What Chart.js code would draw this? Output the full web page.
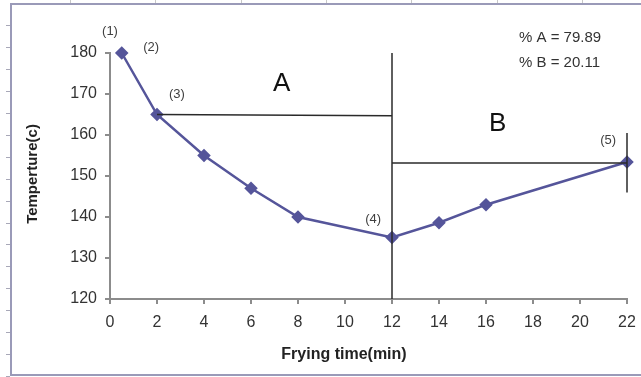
<!DOCTYPE html>
<html>
<head>
<meta charset="utf-8">
<script src="https://cdn.jsdelivr.net/npm/chart.js@4/dist/chart.umd.min.js"></script>
<style>
  html, body { margin: 0; padding: 0; background: #ffffff; }
  #wrap { width: 641px; height: 377px; position: relative; }
</style>
</head>
<body>
<div id="wrap"><canvas id="c" width="641" height="377"></canvas></div>
<script>
// Oil temperature during frying
const fryingTime = [0.5, 2, 4, 6, 8, 12, 14, 16, 22];
const temperature = [180, 165, 155, 147, 140, 135, 138.6, 143, 153.4];

const xTicks = [0, 2, 4, 6, 8, 10, 12, 14, 16, 18, 20, 22];
const yTicks = [120, 130, 140, 150, 160, 170, 180];

// Point labels (x, y in data units)
const pointLabels = [
  { text: '(1)', x: 0, y: 185.3 },
  { text: '(2)', x: 1.75, y: 181.4 },
  { text: '(3)', x: 2.85, y: 170 },
  { text: '(4)', x: 11.2, y: 139.5 },
  { text: '(5)', x: 21.2, y: 158.6 }
];
// Region letters
const regionLabels = [
  { text: 'A', x: 7.3, y: 172.5 },
  { text: 'B', x: 16.5, y: 162.8 }
];
// Region split lines: [x1, y1, x2, y2]
const regionLines = [
  [2, 165, 12, 164.7],
  [12, 180, 12, 120],
  [12, 153.2, 22, 153.2],
  [22, 160.5, 22, 146]
];
const shareText = ['% A = 79.89', '% B = 20.11'];

const fontFamily = '"Liberation Sans", Arial, sans-serif';

const decorPlugin = {
  id: 'decor',
  beforeDraw(chart) {
    const ctx = chart.ctx;
    ctx.save();
    ctx.fillStyle = '#ffffff';
    ctx.fillRect(0, 0, chart.width, chart.height);
    // sheet gridline stubs around the frame
    ctx.strokeStyle = '#c8c8c8';
    ctx.lineWidth = 1;
    for (let x = 70; x < 641; x += 85.3) {
      ctx.beginPath();
      ctx.moveTo(Math.round(x) + 0.5, 0);
      ctx.lineTo(Math.round(x) + 0.5, 4);
      ctx.stroke();
    }
    ctx.strokeStyle = '#a8a8b8';
    for (let y = 25; y < 377; y += 21.95) {
      ctx.beginPath();
      ctx.moveTo(6, Math.round(y) + 0.5);
      ctx.lineTo(10, Math.round(y) + 0.5);
      ctx.stroke();
    }
    // chart frame
    ctx.strokeStyle = '#9a9ab8';
    ctx.lineWidth = 2;
    ctx.strokeRect(11, 4, 640, 371);
    ctx.restore();
  },
  afterDatasetsDraw(chart) {
    const ctx = chart.ctx;
    const xs = chart.scales.x, ys = chart.scales.y;
    ctx.save();
    ctx.strokeStyle = '#2a2a2a';
    ctx.lineWidth = 1.5;
    regionLines.forEach(([x1, y1, x2, y2]) => {
      ctx.beginPath();
      ctx.moveTo(xs.getPixelForValue(x1), ys.getPixelForValue(y1));
      ctx.lineTo(xs.getPixelForValue(x2), ys.getPixelForValue(y2));
      ctx.stroke();
    });
    ctx.textAlign = 'center';
    ctx.textBaseline = 'middle';
    ctx.fillStyle = '#404040';
    ctx.font = '13px ' + fontFamily;
    pointLabels.forEach(l => {
      ctx.fillText(l.text, xs.getPixelForValue(l.x), ys.getPixelForValue(l.y));
    });
    ctx.fillStyle = '#111111';
    ctx.font = '26px ' + fontFamily;
    regionLabels.forEach(l => {
      ctx.fillText(l.text, xs.getPixelForValue(l.x), ys.getPixelForValue(l.y));
    });
    ctx.fillStyle = '#333333';
    ctx.font = '15px ' + fontFamily;
    ctx.textAlign = 'left';
    ctx.fillText(shareText[0], 519, 38);
    ctx.fillText(shareText[1], 519, 63);
    // axis titles
    ctx.font = 'bold 16px ' + fontFamily;
    ctx.textAlign = 'center';
    ctx.fillStyle = '#222222';
    ctx.fillText('Frying time(min)', 344, 355);
    ctx.font = 'bold 15px ' + fontFamily;
    ctx.translate(33, 174);
    ctx.rotate(-Math.PI / 2);
    ctx.fillText('Temperture(c)', 0, 0);
    ctx.restore();
  }
};

new Chart(document.getElementById('c'), {
  type: 'line',
  data: {
    datasets: [{
      data: fryingTime.map((t, i) => ({ x: t, y: temperature[i] })),
      borderColor: '#55559a',
      backgroundColor: '#55559a',
      borderWidth: 2.5,
      pointStyle: 'rectRot',
      pointRadius: 5,
      pointHoverRadius: 5,
      tension: 0,
      clip: false
    }]
  },
  options: {
    responsive: false,
    animation: false,
    events: [],
    layout: { autoPadding: false, padding: { top: 53, right: 14, left: 0, bottom: 0 } },
    plugins: { legend: { display: false }, tooltip: { enabled: false } },
    scales: {
      x: {
        type: 'linear',
        min: 0, max: 22,
        afterFit(scale) {
          scale.height = 78;
          scale.paddingLeft = 0;
          scale.paddingRight = 0;
        },
        afterBuildTicks(scale) { scale.ticks = xTicks.map(v => ({ value: v })); },
        grid: { drawOnChartArea: false, drawTicks: true, tickLength: 5, color: '#8c8c8c', lineWidth: 2 },
        border: { display: true, color: '#8c8c8c', width: 2 },
        ticks: { padding: 9, color: '#333333', font: { family: fontFamily, size: 16 }, maxRotation: 0 }
      },
      y: {
        type: 'linear',
        min: 120, max: 180,
        afterFit(scale) {
          scale.width = 110;
          scale.paddingTop = 0;
          scale.paddingBottom = 0;
        },
        afterBuildTicks(scale) { scale.ticks = yTicks.map(v => ({ value: v })); },
        grid: { drawOnChartArea: false, drawTicks: true, tickLength: 5, color: '#8c8c8c', lineWidth: 2 },
        border: { display: true, color: '#8c8c8c', width: 2 },
        ticks: { padding: 8, color: '#333333', font: { family: fontFamily, size: 16 } }
      }
    }
  },
  plugins: [decorPlugin]
});
</script>
</body>
</html>
